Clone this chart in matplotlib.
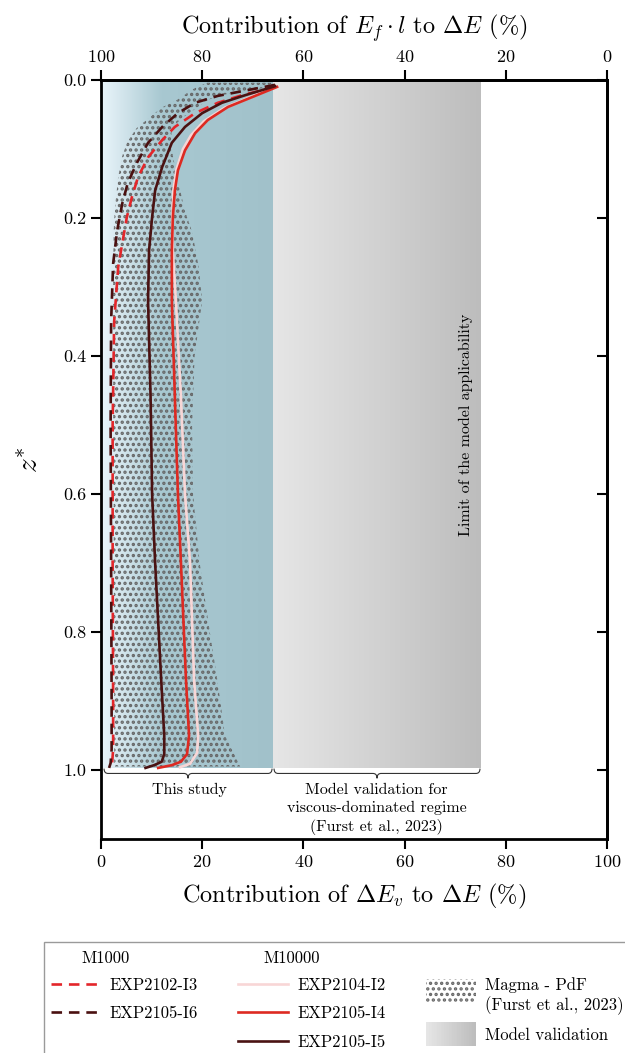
import numpy as np
import matplotlib
matplotlib.use("Agg")
import matplotlib.pyplot as plt
from matplotlib.colors import LinearSegmentedColormap
from matplotlib.lines import Line2D
from matplotlib.patches import Patch, Rectangle, PathPatch
from matplotlib.path import Path
from matplotlib.legend_handler import HandlerBase

plt.rcParams["font.family"] = "serif"
plt.rcParams["font.serif"] = ["cmr10"]
plt.rcParams["mathtext.fontset"] = "cm"
plt.rcParams["axes.formatter.use_mathtext"] = True
plt.rcParams["hatch.linewidth"] = 1.6

# --- data (z*, contribution of dE_v in %) ---
z_i3 = [0.010, 0.022, 0.033, 0.048, 0.068, 0.087, 0.112, 0.141, 0.170, 0.199, 0.237, 0.271, 0.35, 0.5, 0.7, 0.9, 0.97, 0.99, 0.997]
x_i3 = [34.4, 27.9, 23.1, 18.6, 14.6, 12.1, 9.3, 7.3, 6.1, 5.1, 4.2, 3.4, 2.6, 2.3, 2.3, 2.4, 2.4, 2.2, 1.9]

z_i6 = [0.007, 0.0145, 0.023, 0.033, 0.048, 0.068, 0.091, 0.12, 0.149, 0.179, 0.218, 0.266, 0.35, 0.5, 0.7, 0.9, 0.97, 0.99, 0.997]
x_i6 = [34.4, 29.1, 23.1, 18.6, 15.2, 12.1, 9.3, 7.1, 5.3, 4.2, 3.2, 2.4, 2.0, 1.9, 2.0, 2.1, 2.1, 1.9, 1.6]

z_i2 = [0.010, 0.025, 0.04, 0.06, 0.08, 0.10, 0.13, 0.16, 0.20, 0.25, 0.32, 0.46, 0.6, 0.7, 0.87, 0.95, 0.975, 0.991, 0.996]
x_i2 = [34.6, 29.5, 24.5, 20.3, 17.8, 16.2, 14.9, 14.3, 14.1, 14.2, 14.8, 15.8, 16.6, 17.6, 18.4, 19.2, 19.0, 17.6, 15.6]

z_i4 = [0.010, 0.025, 0.039, 0.058, 0.077, 0.102, 0.131, 0.160, 0.199, 0.247, 0.32, 0.46, 0.6, 0.7, 0.87, 0.95, 0.977, 0.988, 0.993, 0.997]
x_i4 = [34.8, 29.8, 25.1, 21.1, 18.6, 16.6, 15.2, 14.6, 14.2, 14.0, 14.0, 14.6, 15.2, 15.8, 16.8, 17.4, 17.0, 15.8, 14.0, 11.3]

z_i5 = [0.009, 0.022, 0.033, 0.048, 0.068, 0.091, 0.126, 0.160, 0.199, 0.247, 0.32, 0.46, 0.6, 0.7, 0.87, 0.95, 0.977, 0.988, 0.993, 0.997]
x_i5 = [34.4, 28.5, 23.9, 20.0, 16.6, 14.0, 12.1, 10.7, 10.1, 9.5, 9.3, 9.8, 10.1, 10.7, 11.9, 12.5, 12.5, 12.0, 10.5, 8.8]

# Magma PdF envelope (Furst et al., 2023)
z_pdf = [0.004, 0.012, 0.019, 0.029, 0.04, 0.055, 0.07, 0.09, 0.11, 0.14, 0.19, 0.22, 0.27, 0.32, 0.40, 0.50, 0.60, 0.70, 0.80, 0.87, 0.95, 0.995]
pdf_lo = [21, 18.5, 17, 15, 12, 9.5, 7, 5.2, 4.2, 3.4, 2.7, 2.5, 2.4, 2.4, 2.4, 2.4, 2.5, 2.5, 2.6, 2.6, 2.6, 2.6]
pdf_hi = [34, 32, 25.5, 21, 19, 16, 14, 13.8, 14.2, 15, 16.6, 18, 19.3, 20, 18.5, 18, 18.2, 19.5, 21.5, 23, 24.5, 27.5]

study_range = (0, 34)
validation_range = (34, 75)
z_top, z_bot = 0.0, 0.997

blue_cmap = LinearSegmentedColormap.from_list("blue", [(0, "#eaf5fb"), (0.35, "#a8c8d1"), (1, "#a1c1ca")])
grey_cmap = LinearSegmentedColormap.from_list("grey", ["#e6e6e6", "#bdbdbd"])
dot_col = "#666666"

fig = plt.figure(figsize=(6.25, 10.53), dpi=100)
ax = fig.add_axes([101 / 625, 1 - 839 / 1053, 506 / 625, 759 / 1053])

grad = np.linspace(0, 1, 256).reshape(1, -1)
ax.imshow(grad, cmap=blue_cmap, aspect="auto", extent=(study_range[0], study_range[1], z_bot, z_top), zorder=0)
ax.imshow(grad, cmap=grey_cmap, aspect="auto", extent=(validation_range[0], validation_range[1], z_bot, z_top), zorder=0)

ax.fill_betweenx(z_pdf, pdf_lo, pdf_hi, facecolor="none", edgecolor=dot_col, hatch="...", linewidth=0, zorder=1)

dash = (0, (4, 2.6))
ax.plot(x_i3, z_i3, color="#e3262a", lw=1.9, ls=dash, zorder=3)
ax.plot(x_i6, z_i6, color="#4a1010", lw=1.9, ls=dash, zorder=3)
ax.plot(x_i2, z_i2, color="#f8d6d6", lw=1.9, zorder=3)
ax.plot(x_i4, z_i4, color="#dd2a22", lw=1.9, zorder=3)
ax.plot(x_i5, z_i5, color="#4a1212", lw=1.9, zorder=3)


def draw_brace(ax, x0, x1, y, h, lw=0.8):
    xm = (x0 + x1) / 2
    w = 0.8
    ym = y + h / 2
    verts = [(x0, y), (x0, ym), (x0 + w, ym), (xm - w, ym), (xm, ym), (xm, y + h),
             (xm, ym), (xm + w, ym), (x1 - w, ym), (x1, ym), (x1, y)]
    codes = [Path.MOVETO, Path.CURVE3, Path.CURVE3, Path.LINETO, Path.CURVE3, Path.CURVE3,
             Path.CURVE3, Path.CURVE3, Path.LINETO, Path.CURVE3, Path.CURVE3]
    ax.add_patch(PathPatch(Path(verts, codes), fill=False, lw=lw, color="#333333", zorder=4))


draw_brace(ax, 0.6, 33.8, 0.998, 0.014)
draw_brace(ax, 34.2, 74.9, 0.998, 0.014)
ax.text(17.5, 1.029, "This study", ha="center", va="center", fontsize=11.5)
ax.text(54.5, 1.057, "Model validation for\nviscous-dominated regime\n(Furst et al., 2023)",
        ha="center", va="center", fontsize=11.5, linespacing=1.35)
ax.text(72.2, 0.5, "Limit of the model applicability", rotation=90, ha="center", va="center", fontsize=11.5)

ax.set_xlim(0, 100)
ax.set_ylim(1.1, 0)
ax.set_xticks(np.arange(0, 101, 20))
ax.set_yticks(np.arange(0, 1.01, 0.2))
ax.set_yticklabels([f"{v:.1f}" for v in np.arange(0, 1.01, 0.2)])
ax.set_xlabel(r"Contribution of $\mathit{\Delta} E_v$ to $\mathit{\Delta} E$ (%)", fontsize=17.5, labelpad=9)
ax.set_ylabel(r"$z^{*}$", fontsize=21, labelpad=14)
ax.tick_params(labelsize=13, length=7, width=1.5, direction="out")
for s in ax.spines.values():
    s.set_linewidth(2)

top = ax.secondary_xaxis("top", functions=(lambda x: 100 - x, lambda x: 100 - x))
top.set_xticks(np.arange(0, 101, 20))
top.set_xlabel(r"Contribution of $E_f \cdot l$ to $\mathit{\Delta} E$ (%)", fontsize=17.5, labelpad=11)
top.tick_params(labelsize=13, length=7, width=1.5, direction="out")
top.spines["top"].set_linewidth(2)

right = ax.secondary_yaxis("right")
right.set_yticks(np.arange(0, 1.01, 0.2))
right.tick_params(length=7, width=1.5, direction="in", labelright=False)
right.spines["right"].set_linewidth(2)


class GradientHandler(HandlerBase):
    def create_artists(self, legend, orig_handle, xdescent, ydescent, width, height, fontsize, trans):
        n = 30
        cols = grey_cmap(np.linspace(0, 1, n))
        hh = height * 2.1
        y0 = -ydescent - 0.5 * height
        return [Rectangle((-xdescent + i * width / n, y0), width / n + 0.01, hh, facecolor=c,
                          edgecolor="none", transform=trans) for i, c in enumerate(cols)]


class HatchHandler(HandlerBase):
    def create_artists(self, legend, orig_handle, xdescent, ydescent, width, height, fontsize, trans):
        return [Rectangle((-xdescent, -ydescent - 0.1 * height), width, height * 2.1, facecolor="none",
                          edgecolor=dot_col, hatch="...", lw=0, transform=trans)]


blank = Line2D([], [], color="none")
hatch_h = Patch(facecolor="none", edgecolor=dot_col, hatch="...")
grad_h = Patch(facecolor="#d0d0d0")
handles = [blank,
           Line2D([], [], color="#e3262a", lw=1.9, ls=dash),
           Line2D([], [], color="#4a1010", lw=1.9, ls=dash),
           blank,
           blank,
           Line2D([], [], color="#f8d6d6", lw=1.9),
           Line2D([], [], color="#dd2a22", lw=1.9),
           Line2D([], [], color="#4a1212", lw=1.9),
           blank, hatch_h, grad_h, blank]
labels = [" ", "EXP2102-I3", "EXP2105-I6", " ",
          " ", "EXP2104-I2", "EXP2105-I4", "EXP2105-I5",
          " ", "Magma - PdF\n(Furst et al., 2023)", "Model validation", " "]
leg = fig.legend(handles, labels, ncol=3, loc="upper left", bbox_to_anchor=(44 / 625, 1 - 942 / 1053),
                 borderaxespad=0, fontsize=12, handlelength=3.0, handletextpad=0.55, columnspacing=2.4,
                 labelspacing=0.8, fancybox=False, edgecolor="#9a9a9a", framealpha=1,
                 handler_map={hatch_h: HatchHandler(), grad_h: GradientHandler()})
leg.get_frame().set_linewidth(1)
fig.text(81 / 625, 1 - 958 / 1053, "M1000", fontsize=12, va="center", zorder=10)
fig.text(263 / 625, 1 - 958 / 1053, "M10000", fontsize=12, va="center", zorder=10)

fig.savefig("out.png", dpi=100)
